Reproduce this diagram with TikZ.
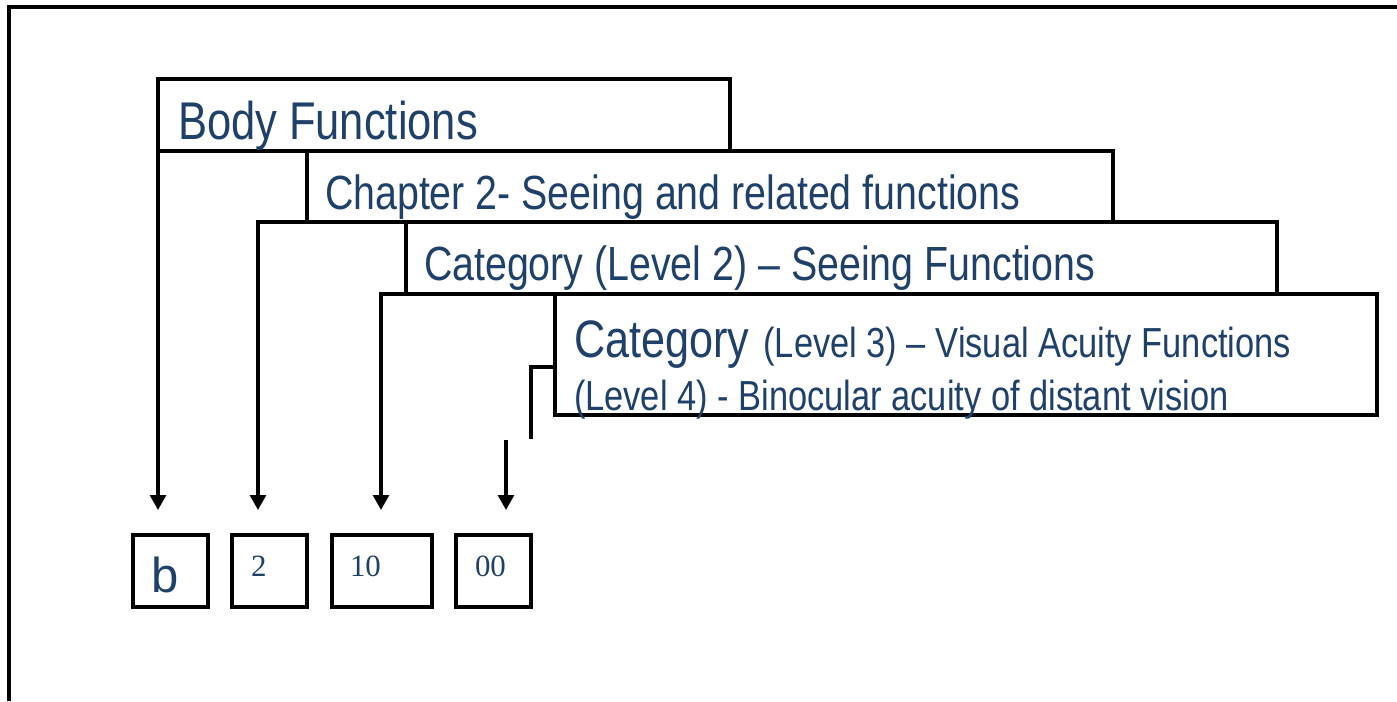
\documentclass[tikz,border=0pt]{standalone}
\usepackage{fontspec}
\setmainfont{Liberation Sans}
\newfontfamily\narrowfont[FakeStretch=0.82,Ligatures=TeX]{Liberation Sans}
\newfontfamily\timesfont{Liberation Serif}
\usetikzlibrary{arrows.meta}
\definecolor{icfblue}{RGB}{31,64,104}

\begin{document}
\begin{tikzpicture}[x=0.02cm,y=-0.02cm,
  wire/.style={line width=1.9pt},
  link/.style={line width=1.9pt,-{Triangle[width=9pt,length=8.5pt]}},
  lvlbox/.style={draw,line width=1.9pt,anchor=north west,inner sep=0pt,outer sep=0pt,minimum height=1.44cm},
  codebox/.style={draw,line width=1.9pt,anchor=north west,inner sep=0pt,outer sep=0pt,minimum width=1.5cm,minimum height=1.44cm},
  lbl/.style={anchor=base west,inner sep=0pt,outer sep=0pt,text=icfblue}]
\useasboundingbox (0,0) rectangle (1397,701);
\draw[wire] (1397,7) -| (9,701);
% level boxes
\node[lvlbox,minimum width=11.44cm] (body) at (158,79) {};
\node[lvlbox,minimum width=16.12cm,minimum height=1.42cm] (chap) at (307,151) {};
\node[lvlbox,minimum width=17.42cm] (cat2) at (406,222) {};
\node[lvlbox,minimum width=16.44cm,minimum height=2.42cm] (cat3) at (555,294) {};
\node[lbl,font=\narrowfont\fontsize{30.2}{32}\selectfont] (bodytxt) at (178,139) {Body Functions};
\node[lbl,font=\narrowfont\fontsize{27.3}{29}\selectfont] (chaptxt) at (325,209) {Chapter 2- Seeing and related functions};
\node[lbl,font=\narrowfont\fontsize{27.3}{29}\selectfont] (cat2txt) at (424,280) {Category (Level 2) – Seeing Functions};
\node[lbl,font=\narrowfont] (cat3txt) at (574,357) {{\fontsize{30}{31}\selectfont Category}\hspace*{8pt}{\fontsize{23.9}{25}\selectfont(Level 3) – Visual Acuity Functions}};
\node[lbl,font=\narrowfont\fontsize{23.9}{25}\selectfont] (cat4txt) at (574,410) {(Level 4) - Binocular acuity of distant vision};
% code boxes
\node[codebox] (cb) at (133,535) {};
\node[codebox] (c2) at (232,535) {};
\node[codebox,minimum width=2cm] (c10) at (332,535) {};
\node[codebox] (c00) at (456,535) {};
\node[lbl,font=\fontsize{27.9}{29}\selectfont] (cbtxt) at (151,592) {b};
\node[lbl,font=\timesfont\fontsize{17.6}{19}\selectfont] (c2txt) at (251,576) {2};
\node[lbl,font=\timesfont\fontsize{17.6}{19}\selectfont] (c10txt) at (350,576) {10};
\node[lbl,font=\timesfont\fontsize{17.6}{19}\selectfont] (c00txt) at (475,576) {00};
% connectors
\coordinate (tipb) at (158,510);
\coordinate (tip2) at (258,510);
\coordinate (tip10) at (381,510);
\coordinate (cat3in) at (555,367);
\coordinate (stub) at (531,439);
\coordinate (gap) at (506,440);
\coordinate (tip00) at (506,510);
\draw[link] (body.south west) -- (tipb);
\draw[link] (chap.south west) -| (tip2);
\draw[link] (cat2.south west) -| (tip10);
\draw[wire] (cat3in) -| (stub);
\draw[link] (gap) -- (tip00);
\end{tikzpicture}
\end{document}
